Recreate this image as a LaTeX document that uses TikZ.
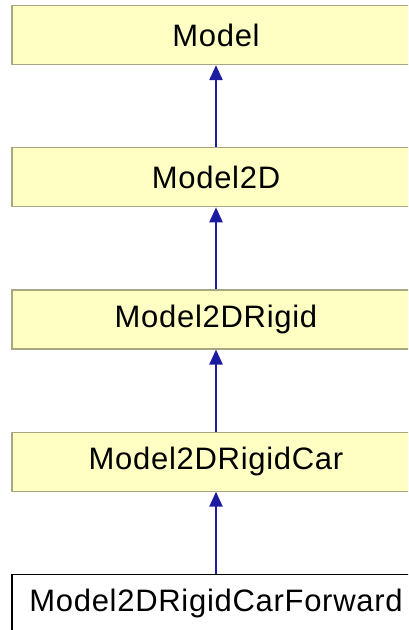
\documentclass[tikz,border=0pt]{standalone}
\usepackage{fontspec}
\setmainfont{Liberation Sans}[LetterSpace=2.3]
\usepackage{xcolor}
\usepackage{tikz}
\usetikzlibrary{arrows.meta,positioning}

\definecolor{classfill}{HTML}{FFFFC4}
\definecolor{classline}{HTML}{A8A880}
\definecolor{edgeblue}{HTML}{1C1CA0}

\begin{document}
\begin{tikzpicture}[
node distance=82pt,
cls/.style={draw=classline, fill=classfill, line width=1.2pt, minimum width=408pt, minimum height=59pt,
  inner sep=0pt, font=\fontsize{31}{36}\selectfont},
leaf/.style={cls, draw=black, fill=white},
inherit/.style={-{Triangle[width=13pt,length=15pt]}, edgeblue, line width=2.4pt}
]
\useasboundingbox (0pt,0pt) rectangle (408pt,-630pt);
\clip (0pt,0pt) rectangle (408pt,-630pt);

\node[cls] (model) at (216pt,-35pt) {Model};
\node[cls, below=of model] (model2d) {Model2D};
\node[cls, below=of model2d] (rigid) {Model2DRigid};
\node[cls, below=of rigid] (car) {Model2DRigidCar};
\node[leaf, below=of car] (forward) {Model2DRigidCarForward};

\draw[inherit] (model2d) -- (model);
\draw[inherit] (rigid) -- (model2d);
\draw[inherit] (car) -- (rigid);
\draw[inherit] (forward) -- (car);
\end{tikzpicture}
\end{document}
